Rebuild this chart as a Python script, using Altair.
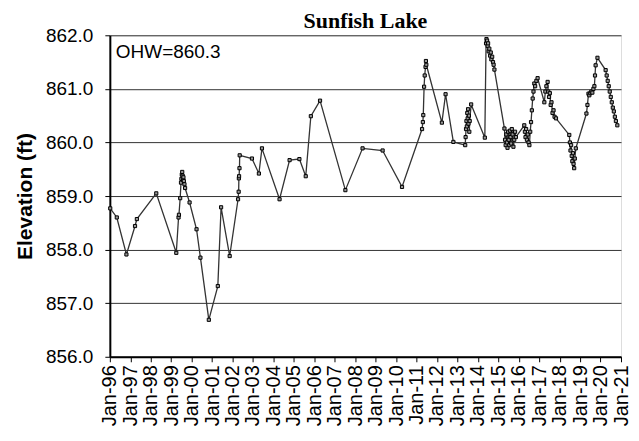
import altair as alt
import pandas as pd

# Readings (decimal year, elevation ft)
years = [
    1996.02, 1996.34, 1996.81, 1997.23, 1997.32, 1998.27, 1999.25, 1999.36, 1999.38, 1999.44,
    1999.48, 1999.50, 1999.52, 1999.54, 1999.56, 1999.58, 1999.60, 1999.62, 1999.65, 1999.68,
    1999.90, 2000.24, 2000.43, 2000.84, 2001.28, 2001.44, 2001.86, 2002.27, 2002.30, 2002.31,
    2002.32, 2002.34, 2002.35, 2002.95, 2003.29, 2003.44, 2004.30, 2004.79, 2005.27, 2005.58,
    2005.83, 2006.28, 2007.52, 2008.36, 2009.34, 2010.29, 2011.27, 2011.31, 2011.33, 2011.37,
    2011.40, 2011.44, 2011.46, 2011.48, 2012.24, 2012.42, 2012.80, 2013.38, 2013.40, 2013.42,
    2013.44, 2013.46, 2013.48, 2013.50, 2013.52, 2013.54, 2013.56, 2013.58, 2013.60, 2013.67,
    2014.34, 2014.40, 2014.42, 2014.45, 2014.48, 2014.50, 2014.53, 2014.56, 2014.60, 2014.63,
    2014.66, 2014.70, 2014.74, 2014.77, 2014.81, 2015.30, 2015.33, 2015.36, 2015.39, 2015.42,
    2015.45, 2015.48, 2015.51, 2015.54, 2015.57, 2015.60, 2015.63, 2015.66, 2015.70, 2015.74,
    2015.78, 2015.82, 2015.86, 2016.27, 2016.30, 2016.33, 2016.36, 2016.40, 2016.44, 2016.48,
    2016.52, 2016.56, 2016.60, 2016.64, 2016.68, 2016.72, 2016.76, 2016.80, 2016.86, 2016.92,
    2017.25, 2017.30, 2017.35, 2017.41, 2017.44, 2017.48, 2017.52, 2017.56, 2017.60, 2017.65,
    2017.70, 2017.75, 2017.82, 2018.47, 2018.50, 2018.53, 2018.56, 2018.59, 2018.62, 2018.65,
    2018.68, 2018.71, 2018.74, 2018.79, 2019.31, 2019.36, 2019.41, 2019.45, 2019.50, 2019.55,
    2019.60, 2019.65, 2019.70, 2019.73, 2019.76, 2019.85, 2020.25, 2020.30, 2020.35, 2020.40,
    2020.45, 2020.50, 2020.55, 2020.60, 2020.65, 2020.70, 2020.75, 2020.82,
]
elevations = [
    858.77, 858.60, 857.91, 858.44, 858.57, 859.05, 857.94, 858.60, 858.65, 858.96,
    859.25, 859.32, 859.40, 859.45, 859.38, 859.30, 859.35, 859.28, 859.22, 859.15,
    858.88, 858.38, 857.85, 856.69, 857.32, 858.79, 857.88, 858.94, 859.08, 859.33,
    859.37, 859.52, 859.76, 859.70, 859.42, 859.89, 858.94, 859.67, 859.69, 859.37,
    860.49, 860.78, 859.11, 859.89, 859.85, 859.17, 860.25, 860.38, 860.51, 861.04,
    861.25, 861.41, 861.52, 861.45, 860.37, 860.90, 860.01, 859.95, 860.10, 860.25,
    860.40, 860.30, 860.55, 860.45, 860.62, 860.35, 860.50, 860.20, 860.40, 860.71,
    860.09, 861.85, 861.93, 861.90, 861.80, 861.85, 861.70, 861.75, 861.62, 861.68,
    861.55, 861.60, 861.50, 861.45, 861.36, 860.26, 860.05, 859.95, 860.15, 860.00,
    859.90, 860.20, 860.05, 859.95, 860.22, 860.10, 859.98, 860.25, 860.15, 859.92,
    860.05, 860.20, 860.10, 860.32, 860.20, 860.10, 860.25, 860.05, 860.15, 860.00,
    859.95, 860.20, 860.38, 860.60, 860.82, 860.95, 861.10, 861.05, 861.15, 861.20,
    860.75, 860.95, 861.05, 861.13, 860.95, 860.85, 860.92, 860.70, 860.75, 860.55,
    860.60, 860.48, 860.45, 860.14, 860.00, 859.85, 859.95, 859.75, 859.65, 859.80,
    859.60, 859.52, 859.70, 859.89, 860.54, 860.70, 860.91, 860.88, 860.92, 860.95,
    860.93, 861.00, 861.05, 861.25, 861.44, 861.58, 861.35, 861.25, 861.15, 861.05,
    860.95, 860.85, 860.75, 860.65, 860.58, 860.48, 860.40, 860.32,
]

y_ticks = [856, 857, 858, 859, 860, 861, 862]
tick_years = list(range(1996, 2022))
title_text = "Sunfish Lake"
y_title = "Elevation (ft)"
note_text = "OHW=860.3"


def to_iso(y):
    yr = int(y)
    frac = y - yr
    start = pd.Timestamp(yr, 1, 1)
    end = pd.Timestamp(yr + 1, 1, 1)
    return (start + (end - start) * frac).strftime("%Y-%m-%dT%H:%M:%S")


df = pd.DataFrame({"date": [to_iso(y) for y in years], "elev": elevations})

x_enc = alt.X(
    "date:T",
    scale=alt.Scale(domain=[alt.DateTime(year=1996, month=1, date=1),
                            alt.DateTime(year=2021, month=1, date=1)]),
    axis=alt.Axis(
        title=None,
        values=[alt.DateTime(year=y, month=1, date=1) for y in tick_years],
        format="%b-%y",
        labelAngle=-90,
        labelAlign="right",
        labelBaseline="middle",
        labelFont="Liberation Sans",
        labelFontSize=20,
        labelColor="black",
        labelPadding=3,
        labelOverlap=False,
        labelFlush=False,
        tickSize=5,
        tickColor="black",
        domainColor="black",
        domainWidth=2,
        grid=False,
    ),
)
y_enc = alt.Y(
    "elev:Q",
    scale=alt.Scale(domain=[856, 862], nice=False, zero=False),
    axis=alt.Axis(
        title=y_title,
        values=y_ticks,
        format=".1f",
        labelFont="Liberation Sans",
        labelFontSize=19,
        labelColor="black",
        labelPadding=12,
        tickSize=5,
        tickColor="black",
        domainColor="black",
        domainWidth=2,
        grid=True,
        gridColor="#333333",
        gridWidth=1,
        titleFont="Liberation Sans",
        titleFontSize=21,
        titleFontWeight="bold",
        titleColor="black",
        titlePadding=10,
    ),
)

base = alt.Chart(df).encode(x=x_enc, y=y_enc)
line = base.mark_line(color="#333333", strokeWidth=1.3)
pts = base.mark_point(
    shape="square", filled=True, fill="#999999", stroke="black", strokeWidth=1, size=10, opacity=1
)

note = alt.Chart(pd.DataFrame({"t": [note_text]})).mark_text(
    align="left", baseline="top", font="Liberation Sans", fontSize=19, color="black"
).encode(x=alt.value(6), y=alt.value(8), text="t:N")

chart = (
    alt.layer(line, pts, note)
    .properties(
        width=512,
        height=322,
        padding={"left": 6, "right": 0, "top": 2, "bottom": 0},
        title=alt.TitleParams(
            title_text, font="Liberation Serif", fontSize=22, fontWeight="bold",
            color="black", anchor="middle", offset=-7,
        ),
    )
    .configure_view(stroke="black", strokeWidth=2)
    .configure(background="white")
)

chart.save("out.html", embed_options={"renderer": "svg", "actions": False})
